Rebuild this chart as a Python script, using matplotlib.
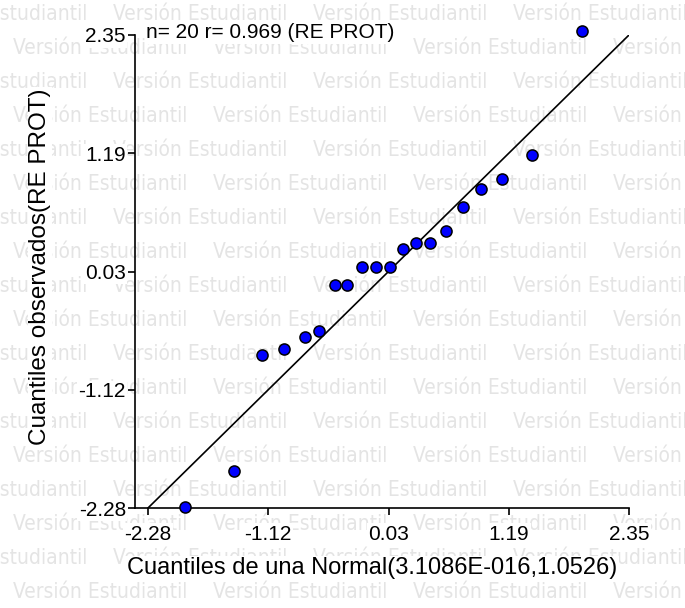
import numpy as np
import matplotlib
matplotlib.use('Agg')
import matplotlib.pyplot as plt
from matplotlib import font_manager as fm

# Cuantiles teoricos (Normal) y observados
cuant_normal = [-1.92, -1.45, -1.18, -0.97, -0.77, -0.63, -0.48, -0.36, -0.22, -0.09,
                0.05, 0.17, 0.30, 0.43, 0.59, 0.75, 0.93, 1.13, 1.42, 1.90]
cuant_obs = [-2.27, -1.92, -0.78, -0.72, -0.61, -0.55, -0.10, -0.10, 0.08, 0.08,
             0.08, 0.26, 0.31, 0.31, 0.43, 0.67, 0.84, 0.94, 1.18, 2.39]

eje_min, eje_max = -2.28, 2.35
tick_labels = ["-2.28", "-1.12", "0.03", "1.19", "2.35"]
titulo = "n= 20 r= 0.969 (RE PROT)"
xlab = "Cuantiles de una Normal(3.1086E-016,1.0526)"
ylab = "Cuantiles observados(RE PROT)"
marca = "Versión Estudiantil"

# fuente angosta para la marca de agua si esta instalada
cond = [f for f in fm.fontManager.ttflist
        if f.name == 'DejaVu Sans' and f.stretch in ('condensed', 'semi-condensed')]
nombres = {f.name for f in fm.fontManager.ttflist}
if cond:
    wm_kw = dict(family='DejaVu Sans', fontstretch='condensed', fontsize=15)
elif 'Liberation Sans Narrow' in nombres:
    wm_kw = dict(family='Liberation Sans Narrow', fontsize=16)
else:
    wm_kw = dict(family='DejaVu Sans', fontsize=13.5)

W, H = 685, 608
fig = plt.figure(figsize=(W / 100, H / 100), dpi=100)
fig.patch.set_facecolor('white')

# marca de agua de fondo
for i in range(18):
    yy = 14 + 34.0 * i
    x0 = 13 if i % 2 == 1 else -87
    for k in range(5):
        fig.text((x0 + 200 * k) / W, 1 - yy / H, marca, color='#e4e4e4',
                 ha='left', va='center', zorder=-5, **wm_kw)

ax = fig.add_axes([135 / W, (H - 508) / H, (629 - 135) / W, (508 - 35) / H])
ax.patch.set_alpha(0)

ax.plot([eje_min, eje_max], [eje_min, eje_max], color='black', lw=1.2, zorder=2)
ax.plot(cuant_normal, cuant_obs, 'o', ms=8, mfc='#0000ff', mec='black', mew=1.1,
        clip_on=False, zorder=3)

px_unit = (629 - 148) / (eje_max - eje_min)
ax.set_xlim(eje_min - 13 / px_unit, eje_max)
ax.set_ylim(eje_min, eje_max)

ticks = np.linspace(eje_min, eje_max, 5)
ax.set_xticks(ticks)
ax.set_xticklabels(tick_labels)
ax.set_yticks(ticks)
ax.set_yticklabels(tick_labels)

for s in ['top', 'right']:
    ax.spines[s].set_visible(False)
for s in ['left', 'bottom']:
    ax.spines[s].set_linewidth(1.2)

ax.tick_params(axis='both', direction='out', length=5, width=1.2, labelsize=15)
ax.tick_params(axis='x', pad=7)
ax.tick_params(axis='y', pad=1.5)
for lbl in ax.get_xticklabels() + ax.get_yticklabels():
    lbl.set_family('Liberation Sans')
    lbl.set_bbox(dict(facecolor='white', edgecolor='none', pad=1))

ax.set_xlabel(xlab, fontsize=17, family='Liberation Sans', va='center',
              bbox=dict(facecolor='white', edgecolor='none', pad=1))
ax.xaxis.set_label_coords((372 - 135) / 494, (508 - 568) / 473)
ax.set_ylabel(ylab, fontsize=17.5, family='Liberation Sans', va='center',
              bbox=dict(facecolor='white', edgecolor='none', pad=1))
ax.yaxis.set_label_coords((40 - 135) / 494, (508 - 267) / 473)

fig.text(146 / W, 1 - 33 / H, titulo, fontsize=15, family='Liberation Sans',
         ha='left', va='center',
         bbox=dict(facecolor='white', edgecolor='none', pad=1))

fig.savefig('out.png', dpi=100)
